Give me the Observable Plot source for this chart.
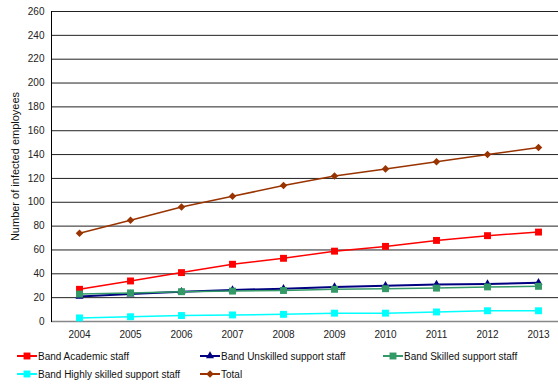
<!DOCTYPE html>
<html>
<head>
<meta charset="utf-8">
<script src="https://cdn.jsdelivr.net/npm/d3@7"></script>
<script src="https://cdn.jsdelivr.net/npm/@observablehq/plot@0.6"></script>
<style>
  html, body { margin: 0; padding: 0; background: #fff; }
  body { font-family: Arial, "Liberation Sans", sans-serif; width: 558px; height: 385px; position: relative; overflow: hidden; }
  #chart { position: absolute; left: 0; top: 0; }
  .legend-item { position: absolute; display: flex; align-items: center; font-size: 10px; color: #111; white-space: nowrap; }
  .legend-item svg { display: block; margin-right: 1px; }
</style>
</head>
<body>
<div id="chart"></div>
<div id="legend"></div>
<script>
// Years on the category axis
const years = ["2004", "2005", "2006", "2007", "2008", "2009", "2010", "2011", "2012", "2013"];

// Infected employees per staff band
const academic      = [27, 34, 41, 48, 53, 59, 63, 68, 72, 75];
const unskilled     = [21, 23, 25, 26.5, 27.5, 29, 30, 31, 31.5, 32.5];
const skilled       = [23, 24, 25, 25.5, 26, 27, 27.5, 28, 29, 29.5];
const highlySkilled = [3, 4, 5, 5.5, 6, 7, 7, 8, 9, 9];
const total         = [74, 85, 96, 105, 114, 122, 128, 134, 140, 146];

// Value axis ticks
const yTicks = [0, 20, 40, 60, 80, 100, 120, 140, 160, 180, 200, 220, 240, 260];

// Series in drawing order, with their look
const series = [
  {name: "Band Academic staff",                values: academic,      color: "#ff0000", symbol: "square",   r: 3.9, width: 1.5},
  {name: "Band Unskilled support staff",       values: unskilled,     color: "#000080", symbol: "triangle", r: 3.0, width: 2},
  {name: "Band Skilled support staff",         values: skilled,       color: "#339966", symbol: "square",   r: 3.9, width: 1.5},
  {name: "Band Highly skilled support staff",  values: highlySkilled, color: "#00ffff", symbol: "square",   r: 3.9, width: 1.5},
  {name: "Total",                              values: total,         color: "#993300", symbol: "diamond2", r: 3.4, width: 1.5}
];

const rows = s => years.map((year, i) => ({year, value: s.values[i]}));

const marks = [
  Plot.ruleY(yTicks.filter(t => t > 0), {stroke: "#222", strokeWidth: 1}),
  Plot.ruleY([0], {stroke: "#888", strokeWidth: 1.5}),
  Plot.frame({anchor: "left", stroke: "#000"}),
  Plot.axisY(yTicks, {tickSize: 0, tickPadding: 7, fontSize: 10, fill: "#222", label: null}),
  Plot.text(["Number of infected employees"], {
    frameAnchor: "left", textAnchor: "middle", rotate: -90, dx: -36, fontSize: 11, fill: "#111"
  }),
  Plot.axisX({tickSize: 0, tickPadding: 9, fontSize: 10, fill: "#222", label: null})
];

for (const s of series) {
  marks.push(Plot.line(rows(s), {x: "year", y: "value", stroke: s.color, strokeWidth: s.width}));
  marks.push(Plot.dot(rows(s), {x: "year", y: "value", symbol: () => s.symbol, r: s.r, fill: s.color, stroke: "none"}));
}

const chart = Plot.plot({
  width: 558,
  height: 343,
  marginLeft: 51,
  marginRight: 0,
  marginTop: 11,
  marginBottom: 22,
  style: {fontFamily: "Arial, 'Liberation Sans', sans-serif", fontSize: "10px", background: "#fff", overflow: "visible"},
  x: {type: "point", domain: years, range: [77, 539], padding: 0},
  y: {domain: [0, 260]},
  symbol: {type: "identity"},
  marks
});
document.getElementById("chart").appendChild(chart);

// Legend below the plot
const legendPos = [
  {left: 17, top: 349}, {left: 200, top: 349}, {left: 383, top: 349},
  {left: 17, top: 367}, {left: 200, top: 367}
];
const legend = d3.select("#legend");
series.forEach((s, i) => {
  const item = legend.append("div").attr("class", "legend-item")
    .style("left", legendPos[i].left + "px").style("top", legendPos[i].top + "px").style("height", "14px");
  const sw = item.append("svg").attr("width", 20).attr("height", 14);
  sw.append("line").attr("x1", 0).attr("x2", 20).attr("y1", 7).attr("y2", 7)
    .attr("stroke", s.color).attr("stroke-width", 2);
  const sym = {square: d3.symbolSquare, triangle: d3.symbolTriangle, diamond2: d3.symbolDiamond2}[s.symbol];
  sw.append("path").attr("transform", "translate(10,7)")
    .attr("d", d3.symbol(sym, Math.PI * s.r * s.r)()).attr("fill", s.color);
  item.append("span").text(s.name);
});
</script>
</body>
</html>
